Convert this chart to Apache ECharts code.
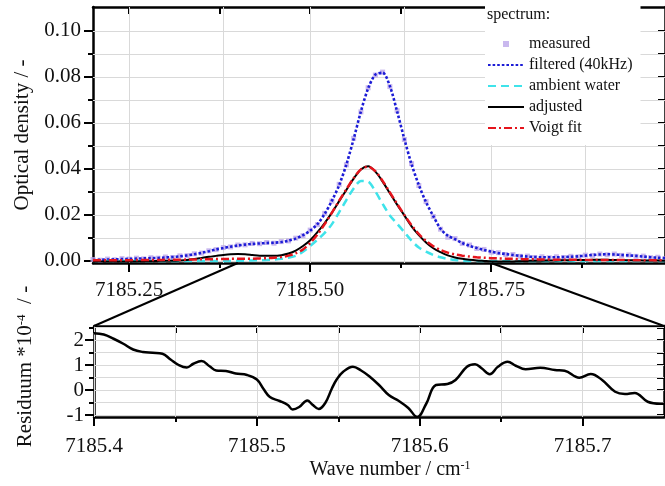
<!DOCTYPE html>
<html>
<head>
<meta charset="utf-8">
<script src="https://cdn.jsdelivr.net/npm/echarts@6/dist/echarts.min.js"></script>
<style>html,body{margin:0;padding:0;background:#fff}#c{width:665px;height:486px}</style>
</head>
<body>
<div id="c"></div>
<script>
// ---------- data ----------
var wavenumber = [7185.20,7185.21,7185.22,7185.23,7185.24,7185.25,7185.26,7185.27,7185.28,7185.29,
7185.30,7185.31,7185.32,7185.33,7185.34,7185.35,7185.36,7185.37,7185.38,7185.39,
7185.40,7185.41,7185.42,7185.43,7185.44,7185.45,7185.46,7185.47,7185.48,7185.49,
7185.50,7185.51,7185.52,7185.53,7185.54,7185.55,7185.56,7185.57,7185.58,7185.59,
7185.60,7185.61,7185.62,7185.63,7185.64,7185.65,7185.66,7185.67,7185.68,7185.69,
7185.70,7185.71,7185.72,7185.73,7185.74,7185.75,7185.76,7185.77,7185.78,7185.79,
7185.80,7185.81,7185.82,7185.83,7185.84,7185.85,7185.86,7185.87,7185.88,7185.89,
7185.90,7185.91,7185.92,7185.93,7185.94,7185.95,7185.96,7185.97,7185.98,7185.99];

var measured = [0.0006,0.0003,0.0008,0.0005,0.0010,0.0008,0.0012,0.0009,0.0014,0.0012,
0.0017,0.0015,0.0022,0.0023,0.0031,0.0034,0.0044,0.0049,0.0058,0.0061,
0.0069,0.0070,0.0076,0.0075,0.0080,0.0077,0.0084,0.0087,0.0099,0.0110,
0.0134,0.0158,0.0207,0.0260,0.0333,0.0418,0.0533,0.0648,0.0753,0.0808,
0.0821,0.0758,0.0653,0.0528,0.0423,0.0328,0.0258,0.0193,0.0138,0.0103,
0.0097,0.0076,0.0069,0.0054,0.0050,0.0038,0.0036,0.0028,0.0028,0.0020,
0.0021,0.0015,0.0018,0.0014,0.0018,0.0015,0.0020,0.0018,0.0025,0.0024,
0.0030,0.0027,0.0030,0.0024,0.0026,0.0020,0.0021,0.0014,0.0016,0.0010];

var filtered = [0.0004,0.0005,0.0006,0.0007,0.0008,0.0009,0.0010,0.0011,0.0012,0.0013,
0.0015,0.0017,0.0020,0.0024,0.0029,0.0035,0.0042,0.0050,0.0056,0.0062,
0.0067,0.0071,0.0074,0.0076,0.0078,0.0079,0.0082,0.0088,0.0097,0.0112,
0.0132,0.0160,0.0205,0.0262,0.0330,0.0420,0.0530,0.0650,0.0750,0.0810,
0.0818,0.0760,0.0650,0.0530,0.0420,0.0330,0.0255,0.0195,0.0140,0.0110,
0.0095,0.0078,0.0066,0.0056,0.0048,0.0040,0.0034,0.0030,0.0026,0.0022,
0.0019,0.0017,0.0016,0.0016,0.0016,0.0017,0.0018,0.0020,0.0023,0.0026,
0.0028,0.0029,0.0028,0.0026,0.0024,0.0022,0.0019,0.0016,0.0014,0.0012];

var ambientWater = [0,0,0,0,0,0,0,0,0,0,
0,0,0,0,0,0,0,0,0,0,
0.0001,0.0001,0.0002,0.0003,0.0004,0.0006,0.0009,0.0014,0.0022,0.0040,
0.0065,0.0092,0.0122,0.0160,0.0212,0.0265,0.0315,0.0348,0.0345,0.0302,
0.0248,0.0198,0.0162,0.0125,0.0088,0.0058,0.0040,0.0026,0.0016,0.0009,
0.0004,0.0001,0,0,0,0,0,0,0,0,
0,0,0,0,0,0,0,0,0,0,
0,0,0,0,0,0,0,0,0,0];

var adjusted = [-0.0003,-0.0003,-0.0003,-0.0003,-0.0002,-0.0002,-0.0002,-0.0001,-0.0001,0.0000,
0.0001,0.0001,0.0002,0.0004,0.0008,0.0013,0.0018,0.0022,0.0026,0.0029,
0.0030,0.0029,0.0026,0.0023,0.0022,0.0022,0.0025,0.0032,0.0045,0.0065,
0.0090,0.0125,0.0165,0.0210,0.0260,0.0309,0.0358,0.0398,0.0412,0.0388,
0.0345,0.0294,0.0245,0.0198,0.0150,0.0112,0.0080,0.0055,0.0038,0.0024,
0.0015,0.0009,0.0005,0.0002,0.0000,-0.0002,-0.0003,-0.0003,-0.0002,-0.0001,
0.0000,0.0001,0.0001,0.0002,0.0002,0.0003,0.0003,0.0004,0.0004,0.0005,
0.0005,0.0005,0.0004,0.0004,0.0003,0.0003,0.0002,0.0002,0.0002,0.0001];

var voigtFit = [0.0003,0.0003,0.0003,0.0003,0.0003,0.0003,0.0004,0.0004,0.0004,0.0004,
0.0005,0.0005,0.0005,0.0006,0.0006,0.0007,0.0007,0.0008,0.0008,0.0009,
0.0009,0.0010,0.0010,0.0011,0.0012,0.0014,0.0017,0.0023,0.0033,0.0050,
0.0078,0.0115,0.0160,0.0210,0.0262,0.0312,0.0360,0.0398,0.0410,0.0390,
0.0348,0.0298,0.0248,0.0200,0.0155,0.0117,0.0087,0.0064,0.0048,0.0036,
0.0028,0.0023,0.0019,0.0016,0.0014,0.0012,0.0011,0.0010,0.0009,0.0008,
0.0007,0.0007,0.0006,0.0006,0.0005,0.0005,0.0005,0.0005,0.0004,0.0004,
0.0004,0.0004,0.0004,0.0004,0.0003,0.0003,0.0003,0.0003,0.0003,0.0003];

var residualX = [7185.400,7185.406,7185.412,7185.418,7185.424,7185.430,7185.436,7185.442,7185.447,7185.452,
7185.457,7185.461,7185.466,7185.471,7185.475,7185.481,7185.487,7185.494,7185.500,7185.504,
7185.508,7185.514,7185.519,7185.522,7185.526,7185.531,7185.534,7185.538,7185.542,7185.546,
7185.549,7185.553,7185.559,7185.564,7185.569,7185.575,7185.581,7185.587,7185.593,7185.5985,
7185.604,7185.610,7185.617,7185.622,7185.629,7185.634,7185.638,7185.643,7185.648,7185.654,
7185.659,7185.665,7185.674,7185.683,7185.689,7185.698,7185.705,7185.712,7185.720,7185.726,
7185.732,7185.740,7185.748,7185.750];
var residual = [2.27,2.22,2.05,1.85,1.62,1.52,1.49,1.45,1.22,1.00,
0.90,1.05,1.16,0.95,0.78,0.76,0.66,0.60,0.42,0.05,
-0.28,-0.44,-0.60,-0.78,-0.68,-0.42,-0.58,-0.76,-0.52,0.05,
0.42,0.73,0.93,0.78,0.55,0.20,-0.20,-0.43,-0.72,-1.08,
-0.55,0.20,0.24,0.40,0.93,1.03,0.87,0.63,0.93,1.13,
0.97,0.83,0.89,0.80,0.77,0.49,0.64,0.40,-0.07,-0.16,
-0.12,-0.47,-0.55,-0.55];

// tick values
var topXMajor = [7185.25, 7185.5, 7185.75];
var topXMinor = [7185.375, 7185.625, 7185.875];
var topYMajor = [0, 0.02, 0.04, 0.06, 0.08, 0.10];
var topYMinor = [0.01, 0.03, 0.05, 0.07, 0.09];
var botXMajor = [7185.4, 7185.5, 7185.6, 7185.7];
var botXMinor = [7185.45, 7185.55, 7185.65];
var botYMajor = [-1, 0, 1, 2];
var botYMinor = [-0.5, 0.5, 1.5, 2.5];
var topXRange = [7185.2, 7185.99];
var topYRange = [-0.0009, 0.1104];
var botXRange = [7185.4, 7185.75];
var botYRange = [-1.08, 2.56];
var zoomRange = [7185.4, 7185.75];

// ---------- chart ----------
var FONT = 'Liberation Serif';
var TXT = '#111';
var chart = echarts.init(document.getElementById('c'), null, {renderer: 'canvas'});

function pairs(xs, ys) { return xs.map(function (x, i) { return [x, ys[i]]; }); }
function sortNum(a) { return a.slice().sort(function (p, q) { return p - q; }); }

var frameLine = {show: true, onZero: false, lineStyle: {color: '#000', width: 2.5}};
var labelStyle = {fontFamily: FONT, fontSize: 21, color: TXT};

function mainAxis(gridIndex, pos, range, major, fmt, margin, extra) {
  var a = {
    type: 'value', gridIndex: gridIndex, position: pos, min: range[0], max: range[1],
    axisLine: frameLine,
    axisTick: {show: true, inside: false, length: 9, customValues: major, lineStyle: {color: '#000', width: 2}},
    axisLabel: Object.assign({show: true, margin: margin, customValues: major, formatter: fmt, showMinLabel: true, showMaxLabel: true}, labelStyle),
    splitLine: {show: false}
  };
  return Object.assign(a, extra || {});
}
function minorAxis(gridIndex, pos, range, minor) {
  return {
    type: 'value', gridIndex: gridIndex, position: pos, min: range[0], max: range[1],
    axisLine: {show: false, onZero: false},
    axisTick: {show: true, inside: false, length: 5, customValues: minor, lineStyle: {color: '#000', width: 2}},
    axisLabel: {show: false},
    splitLine: {show: false}
  };
}
function mirrorAxis(gridIndex, pos, range, all) {
  return {
    type: 'value', gridIndex: gridIndex, position: pos, min: range[0], max: range[1],
    axisLine: frameLine,
    axisTick: {show: true, inside: true, length: 7, customValues: all, lineStyle: {color: '#000', width: 2}},
    axisLabel: {show: false},
    splitLine: {show: false}
  };
}
function gridLines(xs, ys) {
  return {
    silent: true, symbol: 'none', animation: false, z: 1,
    label: {show: false}, emphasis: {disabled: true},
    lineStyle: {color: '#d9d9d9', width: 1, type: 'solid'},
    data: xs.map(function (v) { return {xAxis: v}; }).concat(ys.map(function (v) { return {yAxis: v}; }))
  };
}

var lineLegend = function (n) { return {name: n, itemStyle: {opacity: 0}}; };

var option = {
  animation: false,
  backgroundColor: '#fff',
  title: {
    text: 'spectrum:', left: 487, top: 7, padding: 0,
    textStyle: {fontFamily: FONT, fontSize: 16, fontWeight: 'normal', color: TXT}
  },
  legend: {
    orient: 'vertical', left: 485, top: 6,
    padding: [30, 8, 9, 2],
    backgroundColor: '#fff',
    itemWidth: 36, itemHeight: 6, itemGap: 5,
    textStyle: {fontFamily: FONT, fontSize: 16, color: TXT},
    data: [
      {name: 'measured', icon: 'path://M0,0L1,0L1,1L0,1Z'},
      lineLegend('filtered (40kHz)'),
      lineLegend('ambient water'),
      lineLegend('adjusted'),
      lineLegend('Voigt fit')
    ]
  },
  grid: [
    {left: 93, top: 7, width: 572, height: 256, containLabel: false},
    {left: 94, top: 326, width: 570, height: 91, containLabel: false}
  ],
  xAxis: [
    mainAxis(0, 'bottom', topXRange, topXMajor, function (v) { return v.toFixed(2); }, 17),
    minorAxis(0, 'bottom', topXRange, topXMinor),
    mirrorAxis(0, 'top', topXRange, sortNum(topXMajor.concat(topXMinor))),
    mainAxis(1, 'bottom', botXRange, botXMajor, function (v) { return v.toFixed(1); }, 19, {
      name: 'Wave number / cm{sup|-1}', nameLocation: 'middle', nameGap: 43,
      nameTextStyle: {fontFamily: FONT, fontSize: 20, color: TXT, padding: [0, 0, 0, 22],
        rich: {sup: {fontFamily: FONT, fontSize: 12, color: TXT, verticalAlign: 'top', lineHeight: 12}}}
    }),
    minorAxis(1, 'bottom', botXRange, botXMinor),
    mirrorAxis(1, 'top', botXRange, sortNum(botXMajor.concat(botXMinor)))
  ],
  yAxis: [
    mainAxis(0, 'left', topYRange, topYMajor, function (v) { return v.toFixed(2); }, 12, {
      name: 'Optical density / -', nameLocation: 'middle', nameGap: 58,
      nameTextStyle: {fontFamily: FONT, fontSize: 21, color: TXT}
    }),
    minorAxis(0, 'left', topYRange, topYMinor),
    mirrorAxis(0, 'right', topYRange, sortNum(topYMajor.concat(topYMinor))),
    mainAxis(1, 'left', botYRange, botYMajor, function (v) { return String(Math.round(v)); }, 10, {
      name: 'Residuum *10{sup|-4}  / -', nameLocation: 'middle', nameGap: 58,
      nameTextStyle: {fontFamily: FONT, fontSize: 21, color: TXT, padding: [0, 0, 0, 10],
        rich: {sup: {fontFamily: FONT, fontSize: 13, color: TXT, verticalAlign: 'top', lineHeight: 13}}}
    }),
    minorAxis(1, 'left', botYRange, botYMinor),
    mirrorAxis(1, 'right', botYRange, sortNum(botYMajor.concat(botYMinor)))
  ],
  series: [
    {name: 'gridTop', type: 'line', xAxisIndex: 0, yAxisIndex: 0, data: [], z: 1,
     markLine: gridLines(sortNum(topXMajor.concat(topXMinor)), sortNum(topYMajor.concat(topYMinor)))},
    {name: 'gridBottom', type: 'line', xAxisIndex: 3, yAxisIndex: 3, data: [], z: 1,
     markLine: gridLines(sortNum(botXMajor.concat(botXMinor)), sortNum(botYMajor.concat(botYMinor)))},
    {name: 'measured', type: 'scatter', xAxisIndex: 0, yAxisIndex: 0, symbol: 'rect', symbolSize: 5,
     itemStyle: {color: '#bba6ea'}, data: pairs(wavenumber, measured), z: 2},
    {name: 'filtered (40kHz)', type: 'line', xAxisIndex: 0, yAxisIndex: 0, showSymbol: false, symbol: 'none', smooth: 0.3,
     lineStyle: {color: '#1c1cd6', width: 2.6, type: [2.6, 2]}, itemStyle: {color: '#1c1cd6'},
     data: pairs(wavenumber, filtered), z: 3},
    {name: 'ambient water', type: 'line', xAxisIndex: 0, yAxisIndex: 0, showSymbol: false, symbol: 'none', smooth: 0.3,
     lineStyle: {color: '#3fe3ea', width: 2.5, type: [8, 5]}, itemStyle: {color: '#3fe3ea'},
     data: pairs(wavenumber, ambientWater), z: 3},
    {name: 'adjusted', type: 'line', xAxisIndex: 0, yAxisIndex: 0, showSymbol: false, symbol: 'none', smooth: 0.3,
     lineStyle: {color: '#000', width: 2}, itemStyle: {color: '#000'},
     data: pairs(wavenumber, adjusted), z: 4},
    {name: 'Voigt fit', type: 'line', xAxisIndex: 0, yAxisIndex: 0, showSymbol: false, symbol: 'none', smooth: 0.3,
     lineStyle: {color: '#e5141c', width: 2.5, type: [8, 3, 2, 3]}, itemStyle: {color: '#e5141c'},
     data: pairs(wavenumber, voigtFit), z: 5},
    {name: 'residuum', type: 'line', xAxisIndex: 3, yAxisIndex: 3, showSymbol: false, symbol: 'none', smooth: 0.4,
     lineStyle: {color: '#000', width: 2.5}, itemStyle: {color: '#000'},
     data: pairs(residualX, residual), z: 4}
  ]
};
chart.setOption(option);

// zoom connector lines, positioned through the axes' own scales
var pTopL = chart.convertToPixel({xAxisIndex: 0, yAxisIndex: 0}, [zoomRange[0], topYRange[0]]);
var pTopR = chart.convertToPixel({xAxisIndex: 0, yAxisIndex: 0}, [zoomRange[1], topYRange[0]]);
var pBotL = chart.convertToPixel({xAxisIndex: 3, yAxisIndex: 3}, [zoomRange[0], botYRange[1]]);
var pBotR = chart.convertToPixel({xAxisIndex: 3, yAxisIndex: 3}, [zoomRange[1], botYRange[1]]);
chart.setOption({
  graphic: [
    {type: 'line', shape: {x1: pTopL[0], y1: pTopL[1], x2: pBotL[0], y2: pBotL[1]}, style: {stroke: '#000', lineWidth: 2}, z: 10},
    {type: 'line', shape: {x1: pTopR[0], y1: pTopR[1], x2: pBotR[0], y2: pBotR[1]}, style: {stroke: '#000', lineWidth: 2}, z: 10}
  ]
});
</script>
</body>
</html>
